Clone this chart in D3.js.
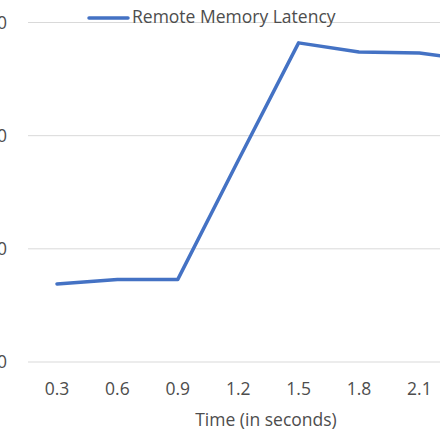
<!DOCTYPE html>
<html><head><meta charset="utf-8">
<script src="https://cdn.jsdelivr.net/npm/d3@7"></script>
<style>body{margin:0;background:#fff;overflow:hidden}</style>
</head><body>
<script>
const times = ["0.3","0.6","0.9","1.2","1.5","1.8","2.1","2.4"];
const latency = [69, 73, 73, 178, 282, 274, 273, 266];
const yTicks = [0, 100, 200, 300];

const W = 440, H = 440;
const font = "Open Sans, sans-serif", fs = 17.5, txt = "#4d4d4d";
const svg = d3.select("body").append("svg").attr("width", W).attr("height", H);

const x = d3.scalePoint().domain(times).range([57, 57 + 60.4 * 7]);
const y = d3.scaleLinear().domain([0, 300]).range([362, 22.5]);

svg.append("g").selectAll("line").data(yTicks).enter().append("line")
  .attr("x1", 28).attr("x2", W).attr("y1", d => y(d)).attr("y2", d => y(d))
  .attr("stroke", "#d9d9d9").attr("stroke-width", 1);

// y labels are cut by the left edge as in the reference
svg.append("g").selectAll("text").data(yTicks).enter().append("text")
  .attr("x", 7).attr("y", d => y(d)).attr("dy", "0.35em").attr("text-anchor", "end")
  .attr("font-family", font).attr("font-size", fs).attr("fill", txt)
  .text(d => d);

svg.append("g").selectAll("text").data(times.slice(0, 7)).enter().append("text")
  .attr("x", d => x(d)).attr("y", 389).attr("dy", "0.35em").attr("text-anchor", "middle")
  .attr("font-family", font).attr("font-size", fs).attr("fill", txt)
  .text(d => d);

svg.append("text").attr("x", 266).attr("y", 420).attr("dy", "0.35em").attr("text-anchor", "middle")
  .attr("font-family", font).attr("font-size", fs).attr("fill", txt)
  .text("Time (in seconds)");

const line = d3.line().x((d, i) => x(times[i])).y(d => y(d));
svg.append("path").datum(latency).attr("d", line)
  .attr("fill", "none").attr("stroke", "#4472c4").attr("stroke-width", 3.5)
  .attr("stroke-linejoin", "round").attr("stroke-linecap", "round");

// legend
svg.append("line").attr("x1", 89).attr("x2", 128).attr("y1", 18).attr("y2", 18)
  .attr("stroke", "#4472c4").attr("stroke-width", 3.5).attr("stroke-linecap", "round");
svg.append("text").attr("x", 132).attr("y", 17).attr("dy", "0.35em")
  .attr("font-family", font).attr("font-size", fs).attr("fill", txt)
  .text("Remote Memory Latency");
</script>
</body></html>
